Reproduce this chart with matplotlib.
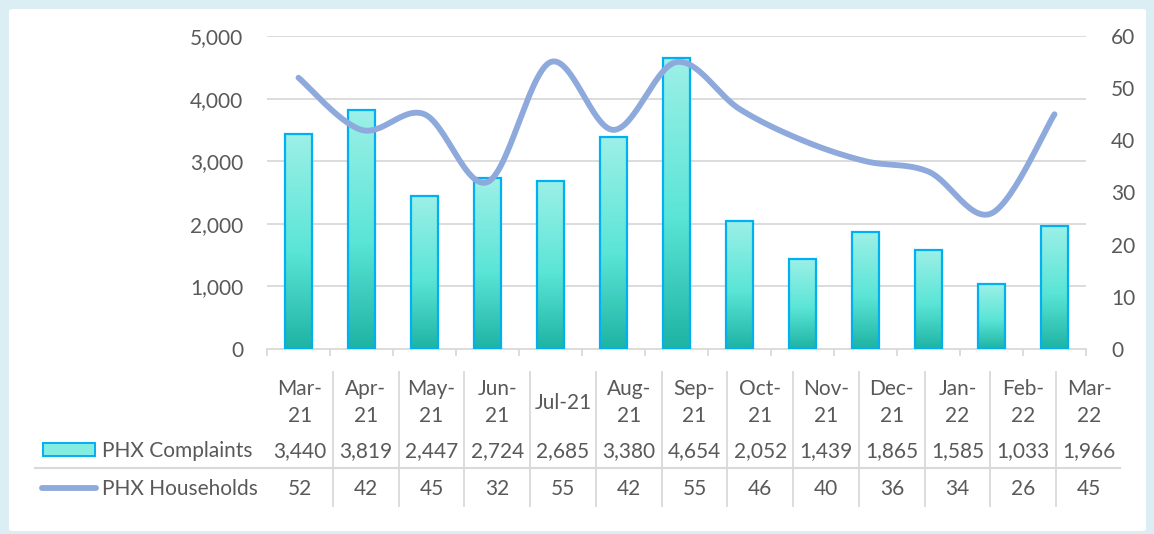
import matplotlib
matplotlib.use('Agg')
import matplotlib.pyplot as plt
from matplotlib.patches import Rectangle, FancyBboxPatch
from matplotlib.lines import Line2D
from matplotlib.colors import LinearSegmentedColormap
from matplotlib.ticker import FuncFormatter
import numpy as np

months = ['Mar-21', 'Apr-21', 'May-21', 'Jun-21', 'Jul-21', 'Aug-21', 'Sep-21',
          'Oct-21', 'Nov-21', 'Dec-21', 'Jan-22', 'Feb-22', 'Mar-22']
header_lines = [['Mar-', '21'], ['Apr-', '21'], ['May-', '21'], ['Jun-', '21'], ['Jul-21'],
                ['Aug-', '21'], ['Sep-', '21'], ['Oct-', '21'], ['Nov-', '21'], ['Dec-', '21'],
                ['Jan-', '22'], ['Feb-', '22'], ['Mar-', '22']]
complaints = [3440, 3819, 2447, 2724, 2685, 3380, 4654, 2052, 1439, 1865, 1585, 1033, 1966]
households = [52, 42, 45, 32, 55, 42, 55, 46, 40, 36, 34, 26, 45]

W, H = 1154, 534
TXT = '#595959'
GRID = '#D9D9D9'
LINE_C = '#8EA9DB'
EDGE_C = '#00B0F0'
plt.rcParams['font.family'] = ['Lato', 'DejaVu Sans']
FS = 15


def fx(px):
    return px / W


def fy(py):
    return 1 - py / H


def smooth(xs, ys, n=30):
    # excel-like smoothed line (bezier through the points)
    pts = np.column_stack([xs, ys]).astype(float)
    out = []
    for i in range(len(pts) - 1):
        p0 = pts[i - 1] if i > 0 else pts[i]
        p1, p2 = pts[i], pts[i + 1]
        p3 = pts[i + 2] if i + 2 < len(pts) else pts[i + 1]
        c1 = p1 + (p2 - p0) / 6
        c2 = p2 - (p3 - p1) / 6
        t = np.linspace(0, 1, n)[:, None]
        seg = (1 - t) ** 3 * p1 + 3 * (1 - t) ** 2 * t * c1 + 3 * (1 - t) * t ** 2 * c2 + t ** 3 * p2
        out.append(seg if i == 0 else seg[1:])
    seg = np.vstack(out)
    return seg[:, 0], seg[:, 1]


fig = plt.figure(figsize=(W / 100, H / 100), dpi=100)
fig.patch.set_facecolor('#DAEEF3')
fig.patches.append(FancyBboxPatch((fx(9), fy(531)), fx(1146) - fx(9), fy(9) - fy(531),
                                  boxstyle='round,pad=0,rounding_size=0.004',
                                  transform=fig.transFigure, facecolor='white',
                                  edgecolor='none', zorder=-10))

ax = fig.add_axes([fx(267), fy(349), fx(1086) - fx(267), fy(36) - fy(349)])
ax.set_facecolor('none')
x = np.arange(len(months))
for v in range(1000, 5001, 1000):
    ax.axhline(v, color=GRID, lw=1.3, zorder=0)

cmap = LinearSegmentedColormap.from_list('teal', [(0, '#1EB3A3'), (0.45, '#5AE5D6'), (1, '#9DF0E7')])
grad = np.linspace(0, 1, 256)[:, None]
bars = ax.bar(x, complaints, width=0.43, facecolor='none', edgecolor=EDGE_C, lw=1.6, zorder=3)
for b in bars:
    im = ax.imshow(grad, cmap=cmap, origin='lower', aspect='auto', zorder=2,
                   extent=(b.get_x(), b.get_x() + b.get_width(), 0, b.get_height()))
    im.set_clip_path(b)
ax.set_xlim(-0.5, len(months) - 0.5)
ax.set_ylim(0, 5000)

ax.set_yticks(range(0, 5001, 1000))
ax.yaxis.set_major_formatter(FuncFormatter(lambda v, p: f'{int(v):,}'))
ax.tick_params(axis='y', length=0, pad=17, labelsize=FS, labelcolor=TXT)
ax.set_xticks(np.arange(-0.5, len(months)))
ax.set_xticklabels([])
ax.tick_params(axis='x', length=5, width=1.3, color=GRID)
for s in ['top', 'right', 'left']:
    ax.spines[s].set_visible(False)
ax.spines['bottom'].set_color(GRID)
ax.spines['bottom'].set_linewidth(1.3)

ax2 = ax.twinx()
ax2.set_ylim(0, 60)
ax2.set_yticks(range(0, 61, 10))
ax2.tick_params(axis='y', length=0, pad=18, labelsize=FS, labelcolor=TXT)
for s in ax2.spines.values():
    s.set_visible(False)
sx, sy = smooth(x, households)
ax2.plot(sx, sy, color=LINE_C, lw=4.2, solid_capstyle='round', zorder=4)

# data table below the chart
col0, colw = 267, 65.77
for k in range(1, len(months)):
    xp = fx(col0 + k * colw)
    fig.add_artist(Line2D([xp, xp], [fy(372), fy(506)], color=GRID, lw=1.3))
fig.add_artist(Line2D([fx(35), fx(1120)], [fy(468), fy(468)], color=GRID, lw=1.5))

for k, lines in enumerate(header_lines):
    cx = fx(col0 + (k + 0.5) * colw)
    if len(lines) == 1:
        fig.text(cx, fy(403), lines[0], ha='center', va='center', fontsize=FS, color=TXT)
    else:
        fig.text(cx, fy(389), lines[0], ha='center', va='center', fontsize=FS, color=TXT)
        fig.text(cx, fy(416), lines[1], ha='center', va='center', fontsize=FS, color=TXT)
    fig.text(cx, fy(451), f'{complaints[k]:,}', ha='center', va='center', fontsize=FS, color=TXT)
    fig.text(cx, fy(489), f'{households[k]}', ha='center', va='center', fontsize=FS, color=TXT)

fig.patches.append(Rectangle((fx(43), fy(456)), fx(95) - fx(43), fy(443) - fy(456),
                             transform=fig.transFigure, facecolor='#84ECE1',
                             edgecolor=EDGE_C, lw=1.4))
fig.add_artist(Line2D([fx(42), fx(96)], [fy(488), fy(488)], color=LINE_C, lw=4.2,
                      solid_capstyle='round'))
fig.text(fx(102), fy(451), 'PHX Complaints', ha='left', va='center', fontsize=FS, color=TXT)
fig.text(fx(102), fy(489), 'PHX Households', ha='left', va='center', fontsize=FS, color=TXT)

fig.savefig('out.png', dpi=100, facecolor=fig.get_facecolor())
